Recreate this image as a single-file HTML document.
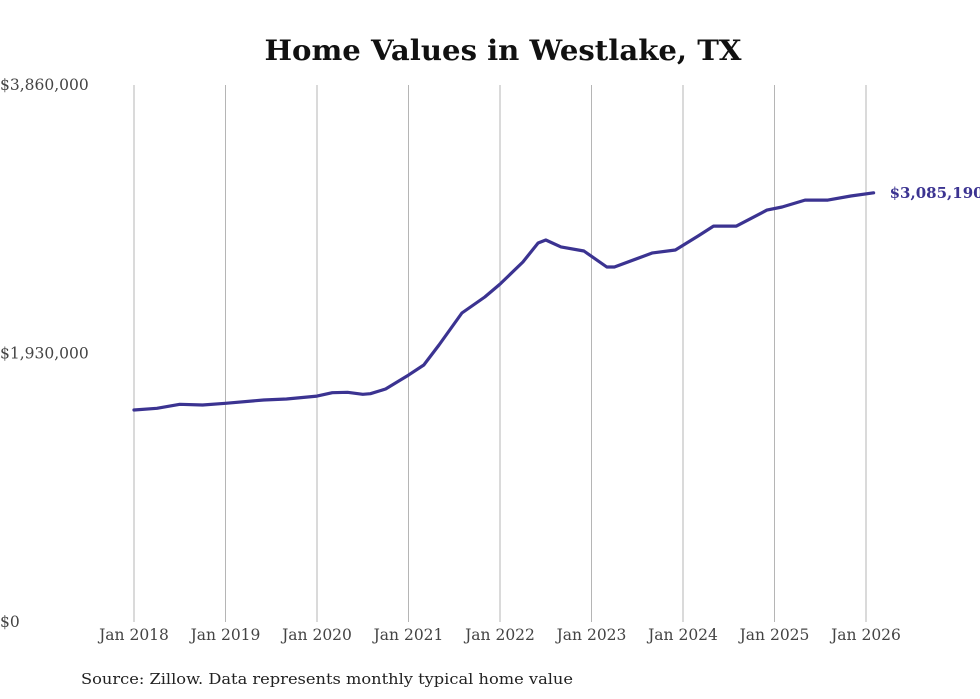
<!DOCTYPE html>
<html><head><meta charset="utf-8"><style>
body{margin:0;background:#fff;width:980px;height:699px;overflow:hidden}
svg{display:block}
</style></head><body>
<svg id="chart" width="980" height="699" font-family="'DejaVu Serif', serif">
<text x="503" y="60" text-anchor="middle" font-size="28" font-weight="bold" fill="#111" textLength="477" lengthAdjust="spacingAndGlyphs">Home Values in Westlake, TX</text>
<g id="grid"></g>
<g id="yaxis"></g>
<g id="xaxis"></g>
<g id="series"></g>
<text x="81" y="684" font-size="15" fill="#222" textLength="492" lengthAdjust="spacingAndGlyphs">Source: Zillow. Data represents monthly typical home value</text>
</svg>
<script>
// months since Jan 2018
const months = [0,3,6,9,12,17,20,24,26,28,30,31,33,36,38,40,43,46,48,51,53,54,56,59,62,63,68,71,74,76,79,83,85,88,91,94,97];
// typical home value (USD thousands)
const values = [1524,1536,1565,1560,1572,1596,1603,1624,1648,1651,1637,1641,1675,1775,1847,1991,2221,2336,2429,2588,2724,2746,2696,2667,2552,2552,2653,2674,2775,2846,2846,2961,2983,3033,3033,3062,3085];
const yTicks = [0,1930000,3860000];
const yTickLabels = ["$0","$1,930,000","$3,860,000"];
const xTickYears = [2018,2019,2020,2021,2022,2023,2024,2025,2026];
const endLabel = "$3,085,190";

const X0=134, PXM=(866-134)/96, Y0=622, Y1=85, YMAX=3860000;
const xs = m => X0 + m*PXM;
const ys = v => Y0 - v/YMAX*(Y0-Y1);
const NS="http://www.w3.org/2000/svg";
function mk(tag,attrs,parent,text){const e=document.createElementNS(NS,tag);for(const k in attrs)e.setAttribute(k,attrs[k]);if(text!==undefined)e.textContent=text;parent.appendChild(e);return e;}
const grid=document.getElementById('grid'),xa=document.getElementById('xaxis'),ya=document.getElementById('yaxis'),ser=document.getElementById('series');
xTickYears.forEach((yr,i)=>{
  const x=xs((yr-2018)*12);
  const l=mk('line',{x1:x,x2:x,y1:Y1,y2:Y0,stroke:'#b5b5b5','stroke-width':1},grid);
  
  
  const t=mk('text',{x:x,y:640,'text-anchor':'middle','font-size':15.5,fill:'#444'},xa,'Jan '+yr);
  
  
});
yTicks.forEach((v,i)=>{
  const t=mk('text',{x:0,y:ys(v)+5,'font-size':15.5,fill:'#444'},ya,yTickLabels[i]);
  
  
});
let d='';
months.forEach((m,i)=>{d+=(i?'L':'M')+xs(m).toFixed(1)+','+ys(values[i]*1000).toFixed(1);});
const p=mk('path',{d:d,fill:'none',stroke:'#3b3391','stroke-width':3.2,'stroke-linejoin':'round','stroke-linecap':'round'},ser);


const lm=months[months.length-1],lv=values[values.length-1]*1000;
const el=mk('text',{x:xs(lm)+16,y:ys(lv)+5,'font-size':15,'font-weight':'bold',fill:'#3b3391'},ser,endLabel);


</script>
</body></html>
